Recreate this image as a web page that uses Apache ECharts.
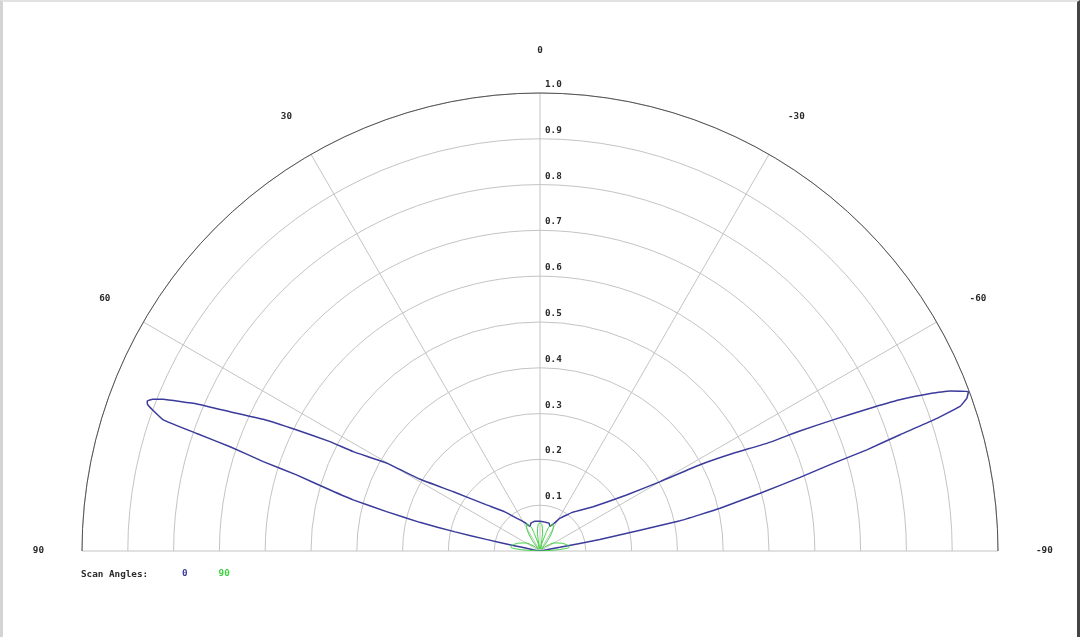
<!DOCTYPE html>
<html>
<head>
<meta charset="utf-8">
<script src="https://cdn.jsdelivr.net/npm/echarts@6/dist/echarts.min.js"></script>
<style>
  html, body { margin: 0; padding: 0; background: #fff; }
  #chart { width: 1080px; height: 637px; }
  #frame { position: absolute; left: 0; top: 0; width: 1080px; height: 637px; box-sizing: border-box;
           border-top: 2px solid #e2e2e2; border-left: 3px solid #d4d4d4; border-right: 3px solid #444;
           pointer-events: none; }
</style>
</head>
<body>
<div id="chart"></div>
<div id="frame"></div>
<script>
// scan angle 0 (blue): angle in degrees (positive = left), normalised gain
var scan0Angles = [-90, -85, -81, -80, -79.6, -79.5, -79.1, -77.8, -76.65, -75.3, -74.2, -73.35, -72.8, -72.1, -71.6, -71.0, -70.3, -69.6, -68.7, -68.1, -67.2, -66.55, -65.9, -65.2, -64.6, -63.2, -61.7, -60.0, -57.1, -50.3, -40, -31.5, -27, -22, -18, -10, 0, 10, 18, 22, 28, 35.5, 42, 49.2, 55.6, 59.1, 60.2, 62.0, 62.5, 63.56, 64.55, 65.8, 66.8, 68.08, 68.6, 69.1, 69.5, 70.0, 70.8, 71.1, 71.4, 72.1, 72.65, 73.8, 74.7, 75.6, 76.6, 77.3, 77.8, 78.3, 79, 82, 86, 90];
var scan0Values = [0, 0.004, 0.008, 0.012, 0.02, 0.044, 0.133, 0.313, 0.404, 0.497, 0.590, 0.668, 0.747, 0.826, 0.905, 0.970, 0.99, 0.998, 0.961, 0.925, 0.852, 0.778, 0.701, 0.625, 0.548, 0.473, 0.397, 0.303, 0.225, 0.151, 0.11, 0.084, 0.068, 0.058, 0.064, 0.064, 0.065, 0.066, 0.064, 0.058, 0.07, 0.088, 0.115, 0.154, 0.229, 0.305, 0.386, 0.462, 0.517, 0.593, 0.669, 0.742, 0.815, 0.887, 0.908, 0.918, 0.915, 0.900, 0.871, 0.792, 0.714, 0.635, 0.557, 0.477, 0.423, 0.346, 0.27, 0.19, 0.12, 0.06, 0.02, 0.008, 0.004, 0];

// scan angle 90 (green)
var scan90Angles = [-90, -86, -83, -78, -70, -60, -50, -42, -36, -30, -26, -20, -15, -12, -8, -4, 0, 4, 8, 12, 15, 20, 26, 30, 36, 42, 50, 60, 70, 78, 83, 86, 90];
var scan90Values = [0, 0.04, 0.064, 0.062, 0.05, 0.035, 0.015, 0.005, 0.03, 0.058, 0.066, 0.055, 0.02, 0.005, 0.04, 0.058, 0.062, 0.058, 0.04, 0.005, 0.02, 0.055, 0.066, 0.058, 0.03, 0.005, 0.015, 0.035, 0.05, 0.062, 0.064, 0.04, 0];

var scanNames = ['0', '90'];
var scanColors = ['#3b3b9c', '#3fd23f'];

function toPolar(angles, values) {
    var out = [];
    for (var i = 0; i < angles.length; i++) {
        out.push([values[i], angles[i]]);
    }
    return out;
}

var font = 'DejaVu Sans Mono';
var textColor = '#2a2a2a';
var myChart = echarts.init(document.getElementById('chart'));

var option = {
    animation: false,
    backgroundColor: '#fff',
    title: {
        text: 'Scan Angles:',
        left: 76,
        top: 565,
        textStyle: { fontFamily: font, fontSize: 9.3, fontWeight: 'bold', color: textColor }
    },
    legend: {
        left: 172,
        top: 562,
        icon: 'none',
        itemWidth: 0,
        itemGap: 26,
        textStyle: { fontFamily: font, fontSize: 9.3, fontWeight: 'bold' },
        data: [
            { name: scanNames[0], textStyle: { color: scanColors[0] } },
            { name: scanNames[1], textStyle: { color: scanColors[1] } }
        ]
    },
    polar: [
        { center: [540, 551], radius: 458 },
        { center: [540, 551], radius: 458 }
    ],
    angleAxis: [{
        polarIndex: 0,
        type: 'value',
        min: -90,
        max: 90,
        interval: 30,
        startAngle: 0,
        endAngle: 180,
        clockwise: false,
        axisLine: { lineStyle: { color: '#555', width: 1 } },
        axisTick: { show: false },
        axisLabel: { margin: 38, color: textColor, fontFamily: font, fontSize: 9.3, fontWeight: 'bold' },
        splitLine: { show: true, lineStyle: { color: '#c4c4c4', width: 1 } }
    }, {
        polarIndex: 1,
        type: 'value',
        min: 0,
        max: 360,
        startAngle: 90,
        show: false
    }],
    radiusAxis: [{
        polarIndex: 0,
        min: 0,
        max: 1,
        interval: 0.1,
        axisLine: { show: false },
        axisTick: { show: false },
        axisLabel: { show: false },
        splitLine: { show: true, lineStyle: { color: '#c4c4c4', width: 1 } }
    }, {
        polarIndex: 1,
        min: 0,
        max: 1,
        interval: 0.1,
        axisLine: { show: false },
        axisTick: { show: false },
        splitLine: { show: false },
        axisLabel: {
            color: textColor,
            fontFamily: font,
            fontSize: 9.3,
            fontWeight: 'bold',
            margin: -5,
            align: 'left',
            verticalAlign: 'bottom',
            padding: [0, 0, 4, 0],
            formatter: function (v) { return v === 0 ? '' : v.toFixed(1); }
        }
    }],
    series: [{
        name: scanNames[0],
        type: 'line',
        coordinateSystem: 'polar',
        polarIndex: 0,
        showSymbol: false,
        smooth: 0.1,
        lineStyle: { color: scanColors[0], width: 1.5 },
        itemStyle: { color: scanColors[0] },
        data: toPolar(scan0Angles, scan0Values)
    }, {
        name: scanNames[1],
        type: 'line',
        coordinateSystem: 'polar',
        polarIndex: 0,
        showSymbol: false,
        smooth: 0.2,
        lineStyle: { color: scanColors[1], width: 1 },
        itemStyle: { color: scanColors[1] },
        data: toPolar(scan90Angles, scan90Values)
    }]
};

myChart.setOption(option);
</script>
</body>
</html>
